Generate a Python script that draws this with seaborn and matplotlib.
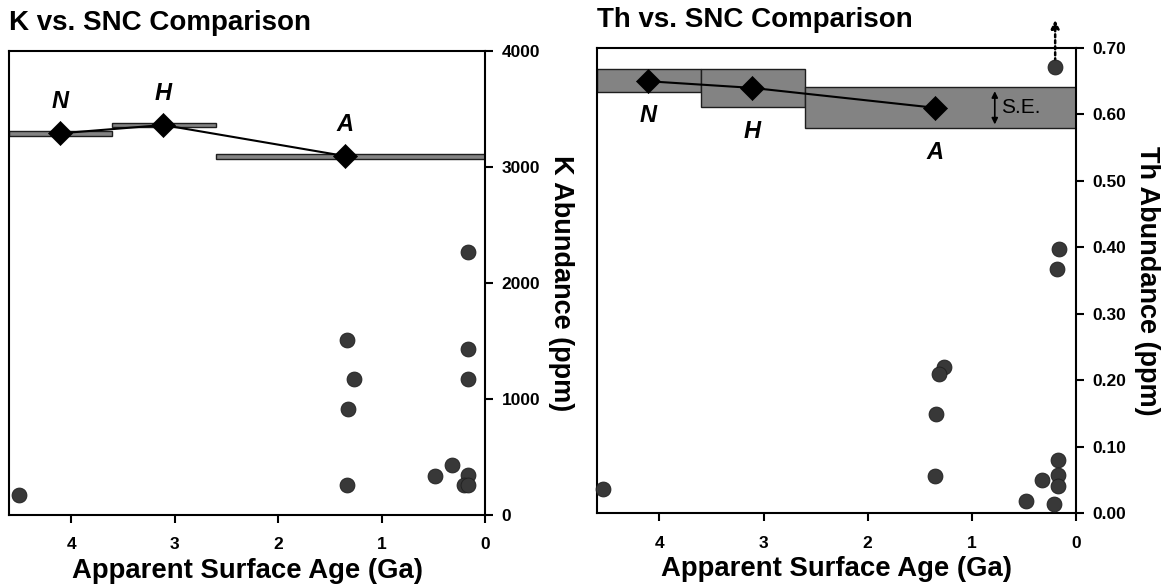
import matplotlib
matplotlib.use("Agg")
import matplotlib.pyplot as plt
import seaborn as sns
import pandas as pd

# ---------------- data ----------------
# SNC meteorite points
k_ages = [4.50, 1.33, 1.27, 1.32, 1.33, 0.16, 0.16, 0.16, 0.16, 0.20, 0.16, 0.32, 0.48]
k_vals = [170, 1509, 1175, 917, 256, 2265, 1428, 1175, 342, 256, 256, 428, 336]

th_ages = [4.54, 1.27, 1.32, 1.34, 1.35, 0.16, 0.18, 0.17, 0.17, 0.33, 0.17, 0.48, 0.21, 0.20]
th_vals = [0.0365, 0.220, 0.209, 0.149, 0.056, 0.398, 0.367, 0.080, 0.058, 0.050, 0.041, 0.018, 0.0135, 0.671]

# Surface units (Noachian, Hesperian, Amazonian)
unit_names = ["N", "H", "A"]
unit_ages = [4.11, 3.11, 1.35]
unit_start = [4.6, 3.6, 2.6]   # age range of each unit
unit_end = [3.6, 2.6, 0.0]
k_unit = [3290, 3362, 3094]
k_unit_se = [21, 21, 21]
th_unit = [0.650, 0.640, 0.610]
th_unit_mean_box = [0.651, 0.6395, 0.610]
th_unit_se = [0.0175, 0.029, 0.031]

k_ticks = [0, 1000, 2000, 3000, 4000]
th_ticks = [0.00, 0.10, 0.20, 0.30, 0.40, 0.50, 0.60, 0.70]
age_ticks = [4, 3, 2, 1, 0]

# ---------------- style ----------------
sns.set_style("ticks")
plt.rcParams["font.family"] = ["Liberation Sans", "DejaVu Sans"]
plt.rcParams["text.color"] = "black"
plt.rcParams["axes.labelcolor"] = "black"
plt.rcParams["xtick.color"] = "black"
plt.rcParams["ytick.color"] = "black"
plt.rcParams["xtick.labelcolor"] = "black"
plt.rcParams["ytick.labelcolor"] = "black"

fig = plt.figure(figsize=(11.73, 5.87), dpi=100)
ax1 = fig.add_axes([9 / 1173, 72 / 587, 476 / 1173, 464 / 587])
ax2 = fig.add_axes([597 / 1173, 73.7 / 587, 479 / 1173, 465.3 / 587])

dot_col = "#383838"
box_col = "#838383"


def draw_panel(ax, ages, vals, uvals, ubox, use, title, ylabel, yticks, ylim, fmt, labels_above):
    # unit boxes
    widths = [e - s for s, e in zip(unit_start, unit_end)]
    bottoms = [m - s for m, s in zip(ubox, use)]
    heights = [2 * s for s in use]
    ax.bar(unit_start, heights, width=widths, bottom=bottoms, align="edge",
           color=box_col, edgecolor="#1e1e1e", linewidth=1.0, zorder=2)
    # connecting line
    ldf = pd.DataFrame({"age": unit_ages, "val": uvals})
    sns.lineplot(data=ldf, x="age", y="val", sort=False, color="black", lw=1.5,
                 ax=ax, zorder=3, estimator=None)
    # diamonds
    sns.scatterplot(data=ldf, x="age", y="val", marker="D", s=150, color="black",
                    edgecolor="black", linewidth=0.5, ax=ax, zorder=4)
    # SNC points
    pdf = pd.DataFrame({"age": ages, "val": vals})
    sns.scatterplot(data=pdf, x="age", y="val", s=115, color=dot_col,
                    edgecolor="#1e1e1e", linewidth=0.6, ax=ax, zorder=5, clip_on=False)
    # unit labels
    for name, a, v, m, s in zip(unit_names, unit_ages, uvals, ubox, use):
        if labels_above:
            ax.annotate(name, (a, v), xytext=(0, 23), textcoords="offset points",
                        ha="center", va="center", fontsize=17, fontweight="bold",
                        fontstyle="italic", zorder=6)
        else:
            ax.annotate(name, (a, m - s), xytext=(0, -17), textcoords="offset points",
                        ha="center", va="center", fontsize=17, fontweight="bold",
                        fontstyle="italic", zorder=6)

    ax.set_xlim(4.6, 0)
    ax.set_ylim(*ylim)
    ax.set_xticks(age_ticks)
    ax.set_xticklabels([str(t) for t in age_ticks])
    ax.set_yticks(yticks)
    ax.set_yticklabels([fmt.format(t) for t in yticks])
    ax.yaxis.tick_right()
    ax.yaxis.set_label_position("right")
    ax.tick_params(axis="both", direction="out", length=6, width=1.5, color="black",
                   labelsize=12.5, labelcolor="black")
    ax.tick_params(axis="x", pad=10)
    ax.tick_params(axis="y", pad=6)
    for lab in ax.get_xticklabels() + ax.get_yticklabels():
        lab.set_fontweight("bold")
    for sp in ax.spines.values():
        sp.set_visible(True)
        sp.set_linewidth(1.5)
        sp.set_color("black")
    ax.set_xlabel("Apparent Surface Age (Ga)", fontsize=19.8, fontweight="bold", labelpad=4)
    ax.set_ylabel(ylabel, fontsize=19.5, fontweight="bold", rotation=270, labelpad=24)
    ax.set_title(title, loc="left", fontsize=20, fontweight="bold", pad=15)


draw_panel(ax1, k_ages, k_vals, k_unit, k_unit, k_unit_se, "K vs. SNC Comparison",
           "K Abundance (ppm)", k_ticks, (0, 4000), "{:d}", True)
draw_panel(ax2, th_ages, th_vals, th_unit, th_unit_mean_box, th_unit_se, "Th vs. SNC Comparison",
           "Th Abundance (ppm)", th_ticks, (0, 0.70), "{:.2f}", False)

# dotted arrow above the off-scale point
ax2.annotate("", xy=(0.20, 0.742), xytext=(0.20, 0.680),
             arrowprops=dict(arrowstyle="-|>", linestyle=(0, (1.2, 1.2)), color="black",
                             lw=1.8, mutation_scale=12, shrinkA=0, shrinkB=0),
             annotation_clip=False)
# S.E. indicator
ax2.annotate("", xy=(0.78, 0.635), xytext=(0.78, 0.585),
             arrowprops=dict(arrowstyle="<|-|>", color="black", lw=1.2,
                             mutation_scale=9, shrinkA=0, shrinkB=0))
ax2.text(0.72, 0.610, "S.E.", fontsize=15, ha="left", va="center", zorder=6)

fig.savefig("out.png", dpi=100)
